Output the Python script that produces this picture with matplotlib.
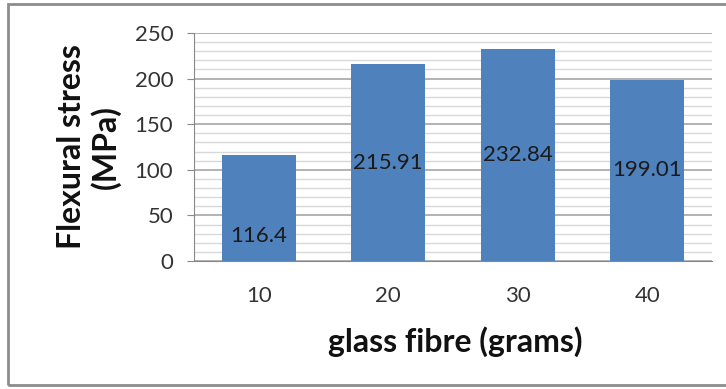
import numpy as np
import matplotlib.pyplot as plt
from matplotlib.patches import Rectangle

# data
categories = ["10", "20", "30", "40"]
stress = [116.4, 215.91, 232.84, 199.01]
value_labels = ["116.4", "215.91", "232.84", "199.01"]

plt.rcParams['font.family'] = ['Lato', 'DejaVu Sans']

fig = plt.figure(figsize=(7.26, 3.89), dpi=100)
ax = fig.add_axes([194 / 726, 1 - 261 / 389, (712 - 194) / 726, (261 - 33) / 389])

x = np.arange(len(categories))
bars = ax.bar(x, stress, width=0.57, color='#4f81bd', zorder=3)

# labels roughly at bar middle (first one sits lower in the original)
label_frac = [0.24, 0.5, 0.5, 0.5]
for xi, v, lab, f in zip(x, stress, value_labels, label_frac):
    ax.text(xi, v * f, lab, ha='center', va='center', fontsize=16, color='#1a1a1a', zorder=4)

ax.set_xlim(-0.5, len(categories) - 0.5)
ax.set_ylim(0, 250)
ax.set_yticks(np.arange(0, 251, 50))
ax.set_yticks(np.arange(0, 251, 10), minor=True)
ax.set_xticks(x)
ax.set_xticklabels(categories)
ax.tick_params(axis='y', which='major', length=5, color='#888888', labelsize=16, labelcolor='#333333', pad=10)
ax.tick_params(axis='y', which='minor', length=0)
ax.tick_params(axis='x', length=0, labelsize=16, labelcolor='#333333', pad=18)
ax.grid(axis='y', which='major', color='#a6a6a6', linewidth=1.2, zorder=0)
ax.grid(axis='y', which='minor', color='#d9d9d9', linewidth=1.0, zorder=0)

for s in ['top', 'right']:
    ax.spines[s].set_visible(False)
ax.spines['left'].set_color('#888888')
ax.spines['bottom'].set_color('#888888')

fig.text(89 / 726, 1 - 147 / 389, "Flexural stress\n(MPa)", rotation=90, ha='center', va='center',
         fontsize=23, fontweight='bold', color='#111111', linespacing=1.15)
fig.text(455 / 726, 1 - 342 / 389, "glass fibre (grams)", ha='center', va='center',
         fontsize=23, fontweight='bold', color='#111111')

# outer frame
fig.patches.append(Rectangle((8 / 726, 4 / 389), 1.0, 381 / 389, transform=fig.transFigure,
                             fill=False, edgecolor='#8c8c8c', linewidth=2))

fig.savefig("out.png", dpi=100)
